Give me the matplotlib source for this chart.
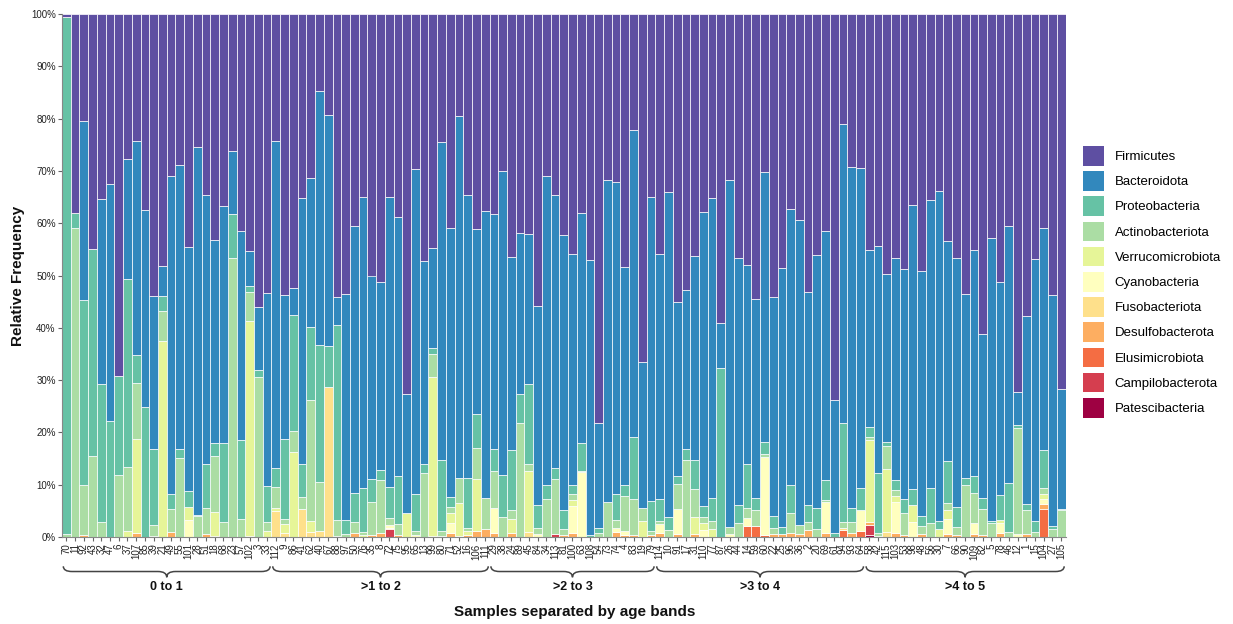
import numpy as np
import matplotlib.pyplot as plt
from matplotlib.path import Path
from matplotlib.patches import PathPatch, Patch

plt.rcParams['font.family'] = ['Liberation Sans', 'DejaVu Sans']

# sample ids, in plotting order
samples = ["70", "11", "92", "43", "32", "47", "6", "37", "107", "85", "39", "21",
           "49", "55", "101", "28", "51", "18", "68", "23", "57", "102", "3", "33",
           "112", "9", "86", "41", "62", "40", "67", "88", "97", "50", "76", "35", "8",
           "72", "75", "95", "65", "13", "99", "80", "71", "52", "16", "106", "111",
           "29", "38", "24", "89", "45", "84", "34", "113", "81", "100", "63", "108",
           "54", "73", "74", "4", "83", "19", "79",
           "114", "10", "91", "17", "31", "110", "77", "87", "26", "44", "14", "59",
           "60", "22", "25", "96", "36", "2", "20", "69", "61", "94", "93", "64",
           "58", "42", "115", "103", "53", "98", "48", "56", "30", "7", "66", "90",
           "109", "82", "5", "78", "46", "12", "1", "15", "104", "27", "105"]

age_bands = ["0 to 1", ">1 to 2", ">2 to 3", ">3 to 4", ">4 to 5"]
band_sizes = [24, 25, 19, 24, 23]

# relative frequency (%) per phylum, one value per sample
firmicutes = [0.5, 38.1, 20.5, 45.0, 35.4, 32.6, 69.3, 27.7, 24.2, 37.4, 53.9, 48.2, 31.0, 28.8, 44.6, 25.5, 34.7, 43.3, 36.8, 26.2, 41.4, 45.4, 56.1, 53.3,
              24.3, 53.8, 52.4, 35.2, 31.4, 14.7, 19.4, 54.2, 53.6, 40.6, 34.9, 50.0, 51.2, 34.9, 38.9, 72.6, 29.7, 47.3, 44.7, 24.5, 40.9, 19.5, 34.7, 41.1, 37.6,
              38.2, 30.1, 46.5, 41.9, 42.1, 55.9, 30.9, 34.7, 42.2, 45.8, 38.1, 47.1, 78.2, 31.8, 32.2, 48.4, 22.1, 66.6, 34.9,
              45.8, 34.0, 55.0, 52.7, 46.3, 37.8, 35.2, 59.1, 31.8, 46.7, 48.0, 54.4, 30.3, 54.2, 48.5, 37.2, 39.3, 53.1, 46.1, 41.4, 73.8, 21.0, 29.2, 29.5,
              45.1, 44.3, 49.7, 46.6, 48.7, 36.5, 49.2, 35.5, 33.9, 43.4, 46.7, 53.6, 45.1, 61.1, 42.8, 51.3, 40.6, 72.3, 57.8, 46.9, 40.9, 53.8, 71.7]
bacteroidota = [0, 0, 34.1, 0, 35.4, 45.3, 0, 23.0, 41.0, 37.7, 29.2, 5.8, 60.7, 54.3, 46.7, 70.2, 51.4, 38.7, 45.2, 12.1, 40.0, 6.6, 11.9, 36.9,
                62.5, 27.5, 5.2, 50.8, 28.4, 48.5, 44.1, 5.2, 43.1, 50.9, 55.8, 38.9, 35.9, 55.5, 49.5, 22.8, 62.0, 38.8, 19.2, 60.8, 51.4, 69.2, 54.0, 35.3, 55.0,
                45.0, 58.1, 36.8, 30.8, 28.7, 37.9, 59.1, 52.1, 52.7, 44.2, 44.0, 52.6, 20.1, 61.6, 59.5, 41.6, 58.7, 27.9, 58.3,
                47.0, 62.2, 33.4, 30.5, 39.0, 56.3, 57.3, 8.6, 66.2, 47.2, 38.1, 38.2, 51.6, 41.7, 49.5, 52.8, 58.4, 40.7, 48.3, 47.7, 25.5, 57.2, 65.2, 61.1,
                33.9, 43.5, 32.1, 42.5, 44.1, 54.3, 46.7, 55.1, 63.0, 42.0, 47.6, 35.1, 43.3, 31.5, 54.1, 40.6, 49.1, 6.2, 35.8, 50.0, 42.5, 44.1, 22.9]
proteobacteria = [99.0, 2.8, 35.4, 39.5, 26.3, 22.1, 18.9, 36.0, 5.4, 24.9, 14.6, 2.8, 2.9, 1.7, 3.0, 0.3, 8.3, 2.6, 15.1, 8.4, 15.1, 1.1, 1.5, 6.9,
                  3.6, 15.3, 22.2, 6.4, 14.0, 26.3, 7.9, 37.3, 2.8, 5.7, 8.3, 4.4, 2.0, 6.0, 9.1, 0, 7.1, 1.7, 1.1, 13.5, 2.0, 0, 9.5, 6.6, 0,
                  4.1, 8.0, 11.5, 5.5, 15.2, 4.4, 2.8, 2.1, 3.6, 1.8, 5.3, 0.3, 0.9, 0, 5.0, 2.2, 12.0, 0, 5.6,
                  4.1, 2.5, 1.4, 2.0, 5.5, 2.1, 4.4, 32.3, 0, 3.5, 8.3, 2.2, 2.3, 2.3, 1.4, 5.4, 0, 3.3, 4.0, 3.9, 0.7, 19.0, 2.7, 4.3,
                  1.8, 11.5, 0.8, 2.0, 2.6, 3.1, 2.0, 6.8, 1.6, 8.1, 3.7, 1.3, 3.1, 2.1, 0.5, 4.8, 9.3, 0.7, 1.3, 2.1, 7.3, 0.5, 0.2]
actinobacteriota = [0.5, 59.1, 9.7, 15.5, 2.9, 0, 11.8, 12.1, 10.6, 0, 2.1, 5.8, 4.4, 15.2, 0, 4.0, 5.1, 10.6, 2.9, 53.3, 3.5, 5.6, 30.5, 1.7,
                    4.0, 0.9, 3.9, 2.2, 23.1, 9.3, 0, 3.1, 0.5, 2.1, 0.7, 6.4, 10.1, 1.3, 2.2, 0, 0.8, 12.2, 4.5, 1.0, 1.1, 4.8, 0.6, 5.9, 5.9,
                    7.1, 3.8, 1.7, 21.8, 1.3, 1.2, 7.2, 10.5, 1.1, 1.2, 0.2, 0, 0.8, 6.6, 1.5, 6.6, 6.9, 2.4, 0.8,
                    0.7, 1.3, 4.8, 14.8, 5.3, 1.1, 1.6, 0, 1.5, 2.6, 2.0, 3.1, 0.5, 1.2, 0, 3.8, 1.8, 1.6, 1.6, 0.3, 0, 1.0, 2.1, 0,
                    0.6, 0.5, 4.4, 1.0, 4.3, 0, 1.5, 2.6, 0, 1.3, 1.6, 10.0, 5.9, 4.9, 2.6, 0, 1.0, 20.3, 4.6, 1.0, 1.0, 1.6, 5.2]
verrucomicrobiota = [0, 0, 0, 0, 0, 0, 0, 1.2, 18.0, 0, 0, 37.4, 0, 0, 2.4, 0, 0, 4.6, 0, 0, 0, 41.1, 0, 1.2,
                     0.7, 1.8, 16.3, 0, 2.1, 0, 0, 0, 0, 0, 0.3, 0, 0, 0, 0, 4.6, 0, 0, 30.3, 0, 1.9, 6.3, 0.8, 9.9, 0,
                     0, 0, 2.8, 0, 11.7, 0, 0, 0, 0, 1.1, 0, 0, 0, 0, 0, 0, 0, 3.1, 0,
                     0, 0, 0, 0, 3.4, 1.4, 1.5, 0, 0, 0, 0, 0, 0, 0, 0, 0, 0, 0, 0, 0, 0, 0, 0, 0,
                     15.7, 0, 12.0, 1.3, 0, 3.2, 0, 0, 1.5, 1.7, 0, 0, 0, 0, 0, 0.6, 0, 0, 0, 0, 1.1, 0, 0]
cyanobacteria = [0, 0, 0, 0, 0, 0, 0, 0, 0, 0, 0, 0, 0, 0, 3.3, 0, 0, 0, 0, 0, 0, 0, 0, 0,
                 0, 0, 0, 0, 0, 0, 0, 0, 0, 0, 0, 0, 0, 0.6, 0, 0, 0.4, 0, 0, 0, 1.9, 0, 0, 0, 0,
                 4.8, 0, 0, 0, 0, 0.6, 0, 0, 0, 5.1, 12.4, 0, 0, 0, 0.8, 0.8, 0, 0, 0,
                 1.6, 0, 4.9, 0, 0, 1.3, 0, 0, 0.5, 0, 1.5, 0, 14.9, 0, 0, 0, 0, 0, 0, 5.9, 0, 0, 0, 3.9,
                 0, 0, 0, 5.8, 0, 2.9, 0, 0, 0, 3.0, 0, 0, 2.0, 0, 0, 1.9, 0, 0.5, 0, 0, 0.8, 0, 0]
fusobacteriota = [0, 0, 0, 0, 0, 0, 0, 0, 0, 0, 0, 0, 0, 0, 0, 0, 0, 0, 0, 0, 0, 0, 0, 0,
                  4.9, 0.7, 0, 5.4, 1.0, 1.2, 28.6, 0, 0, 0, 0, 0, 0, 0, 0, 0, 0, 0, 0, 0, 0, 0, 0, 0, 0,
                  0, 0, 0, 0, 1.0, 0, 0, 0, 0, 0, 0, 0, 0, 0, 0, 0, 0, 0, 0,
                  0, 0, 0, 0, 0, 0, 0, 0, 0, 0, 0, 0, 0, 0, 0, 0, 0, 0, 0, 0, 0, 0.5, 0, 0,
                  0, 0, 1.0, 0, 0, 0, 0, 0, 0, 0, 0, 0, 0, 0, 0, 0, 0, 0, 0, 0, 0, 0, 0]
desulfobacterota = [0, 0, 0.3, 0, 0, 0, 0, 0, 0.8, 0, 0, 0, 1.0, 0, 0, 0, 0.5, 0.2, 0, 0, 0, 0, 0, 0,
                    0, 0, 0, 0, 0, 0, 0, 0, 0, 0.7, 0, 0.3, 0.8, 0.2, 0.3, 0, 0, 0, 0, 0.2, 0.8, 0.2, 0.4, 1.2, 1.5,
                    0.8, 0, 0.7, 0, 0, 0, 0, 0, 0.4, 0.8, 0, 0, 0, 0, 1.0, 0.4, 0.3, 0, 0.4,
                    0.8, 0, 0.5, 0, 0.5, 0, 0, 0, 0, 0, 0, 0, 0, 0.6, 0.6, 0.8, 0.5, 1.3, 0, 0.8, 0, 0, 0.8, 0,
                    0.6, 0.2, 0, 0.8, 0.3, 0, 0.6, 0, 0, 0.5, 0.4, 0, 0.6, 0.4, 0, 0.8, 0, 0, 0.5, 0, 1.0, 0, 0]
elusimicrobiota = [0, 0, 0, 0, 0, 0, 0, 0, 0, 0, 0, 0, 0, 0, 0, 0, 0, 0, 0, 0, 0, 0, 0, 0,
                   0, 0, 0, 0, 0, 0, 0, 0, 0, 0, 0, 0, 0, 0, 0, 0, 0, 0, 0, 0, 0, 0, 0, 0, 0,
                   0, 0, 0, 0, 0, 0, 0, 0, 0, 0, 0, 0, 0, 0, 0, 0, 0, 0, 0,
                   0, 0, 0, 0, 0, 0, 0, 0, 0, 0, 2.1, 2.1, 0.4, 0, 0, 0, 0, 0, 0, 0, 0, 1.3, 0, 1.2,
                   0, 0, 0, 0, 0, 0, 0, 0, 0, 0, 0, 0, 0, 0, 0, 0, 0, 0, 0, 0, 5.4, 0, 0]
campilobacterota = [0, 0, 0, 0, 0, 0, 0, 0, 0, 0, 0.2, 0, 0, 0, 0, 0, 0, 0, 0, 0, 0, 0.2, 0, 0,
                    0, 0, 0, 0, 0, 0, 0, 0.2, 0, 0, 0, 0, 0, 1.5, 0, 0, 0, 0, 0.2, 0, 0, 0, 0, 0, 0,
                    0, 0, 0, 0, 0, 0, 0, 0.6, 0, 0, 0, 0, 0, 0, 0, 0, 0, 0, 0,
                    0, 0, 0, 0, 0, 0, 0, 0, 0, 0, 0, 0, 0, 0, 0, 0, 0, 0, 0, 0, 0, 0, 0, 0,
                    1.9, 0, 0, 0, 0, 0, 0, 0, 0, 0, 0, 0, 0, 0, 0, 0, 0, 0, 0, 0, 0, 0, 0]
patescibacteria = [0, 0, 0, 0, 0, 0, 0, 0, 0, 0, 0, 0, 0, 0, 0, 0, 0, 0, 0, 0, 0, 0, 0, 0,
                   0, 0, 0, 0, 0, 0, 0, 0, 0, 0, 0, 0, 0, 0, 0, 0, 0, 0, 0, 0, 0, 0, 0, 0, 0,
                   0, 0, 0, 0, 0, 0, 0, 0, 0, 0, 0, 0, 0, 0, 0, 0, 0, 0, 0,
                   0, 0, 0, 0, 0, 0, 0, 0, 0, 0, 0, 0, 0, 0, 0, 0, 0, 0, 0, 0, 0, 0, 0, 0,
                   0.4, 0, 0, 0, 0, 0, 0, 0, 0, 0, 0, 0, 0, 0, 0, 0, 0, 0, 0, 0, 0, 0, 0]

phyla = ["Firmicutes", "Bacteroidota", "Proteobacteria", "Actinobacteriota",
         "Verrucomicrobiota", "Cyanobacteria", "Fusobacteriota", "Desulfobacterota",
         "Elusimicrobiota", "Campilobacterota", "Patescibacteria"]
series = [firmicutes, bacteroidota, proteobacteria, actinobacteriota,
          verrucomicrobiota, cyanobacteria, fusobacteriota, desulfobacterota,
          elusimicrobiota, campilobacterota, patescibacteria]
colors = ["#5e4fa2", "#3288bd", "#66c2a5", "#abdda4", "#e6f598", "#ffffbf",
          "#fee08b", "#fdae61", "#f46d43", "#d53e4f", "#9e0142"]

W, H = 1233, 624
fig = plt.figure(figsize=(W / 100, H / 100), dpi=100)
ax = fig.add_axes([62 / W, 1 - 537 / H, (1065.5 - 62) / W, 523 / H])

x = np.arange(len(samples))
bottom = np.zeros(len(samples))
# stack from the rarest phylum at the bottom up to Firmicutes on top
for name, vals, col in reversed(list(zip(phyla, series, colors))):
    vals = np.array(vals, dtype=float)
    ax.bar(x, vals, bottom=bottom, width=1.0, color=col,
           edgecolor="white", linewidth=0.5)
    bottom += vals

ax.set_xlim(-0.5, len(samples) - 0.5)
ax.set_ylim(0, 100)
ax.set_yticks(np.arange(0, 101, 10))
ax.set_yticklabels([f"{v}%" for v in range(0, 101, 10)])
ax.set_xticks(x)
ax.set_xticklabels(samples, rotation=90)
ax.tick_params(axis="both", labelsize=7, length=3, color="#666", labelcolor="#222", pad=1.5)
for s in ["top", "right"]:
    ax.spines[s].set_visible(False)
for s in ["left", "bottom"]:
    ax.spines[s].set_color("#888")
    ax.spines[s].set_linewidth(0.8)

# curly braces under each age band
trans = ax.get_xaxis_transform()
y_top, y_mid, y_tip = -0.056, -0.066, -0.077
r = 1.0
start = 0
for band, n in zip(age_bands, band_sizes):
    x0 = start - 0.35
    x1 = start + n - 1 + 0.35
    xc = (x0 + x1) / 2
    verts = [(x0, y_top), (x0, y_mid), (x0 + r, y_mid),
             (xc - r, y_mid),
             (xc, y_mid), (xc, y_tip),
             (xc, y_mid), (xc + r, y_mid),
             (x1 - r, y_mid),
             (x1, y_mid), (x1, y_top)]
    codes = [Path.MOVETO, Path.CURVE3, Path.CURVE3, Path.LINETO,
             Path.CURVE3, Path.CURVE3, Path.CURVE3, Path.CURVE3,
             Path.LINETO, Path.CURVE3, Path.CURVE3]
    ax.add_patch(PathPatch(Path(verts, codes), transform=trans, fill=False,
                           edgecolor="#444", linewidth=1.1, clip_on=False))
    ax.text(xc, -0.095, band, transform=trans, ha="center", va="center",
            fontsize=9, fontweight="bold", color="#111")
    start += n

fig.text(18 / W, 1 - 275.5 / H, "Relative Frequency", rotation=90, ha="center",
         va="center", fontsize=11, fontweight="bold", color="#111")
fig.text(575 / W, 1 - 612 / H, "Samples separated by age bands", ha="center",
         va="center", fontsize=11, fontweight="bold", color="#111")

handles = [Patch(facecolor=c, edgecolor="none") for c in colors]
fig.legend(handles, phyla, loc="upper left", bbox_to_anchor=(1083 / W, 1 - 146 / H),
           frameon=False, fontsize=9.5, handlelength=1.6, handleheight=1.9,
           handletextpad=0.8, labelspacing=0.43, borderpad=0, borderaxespad=0)

fig.savefig("out.png", dpi=100)
